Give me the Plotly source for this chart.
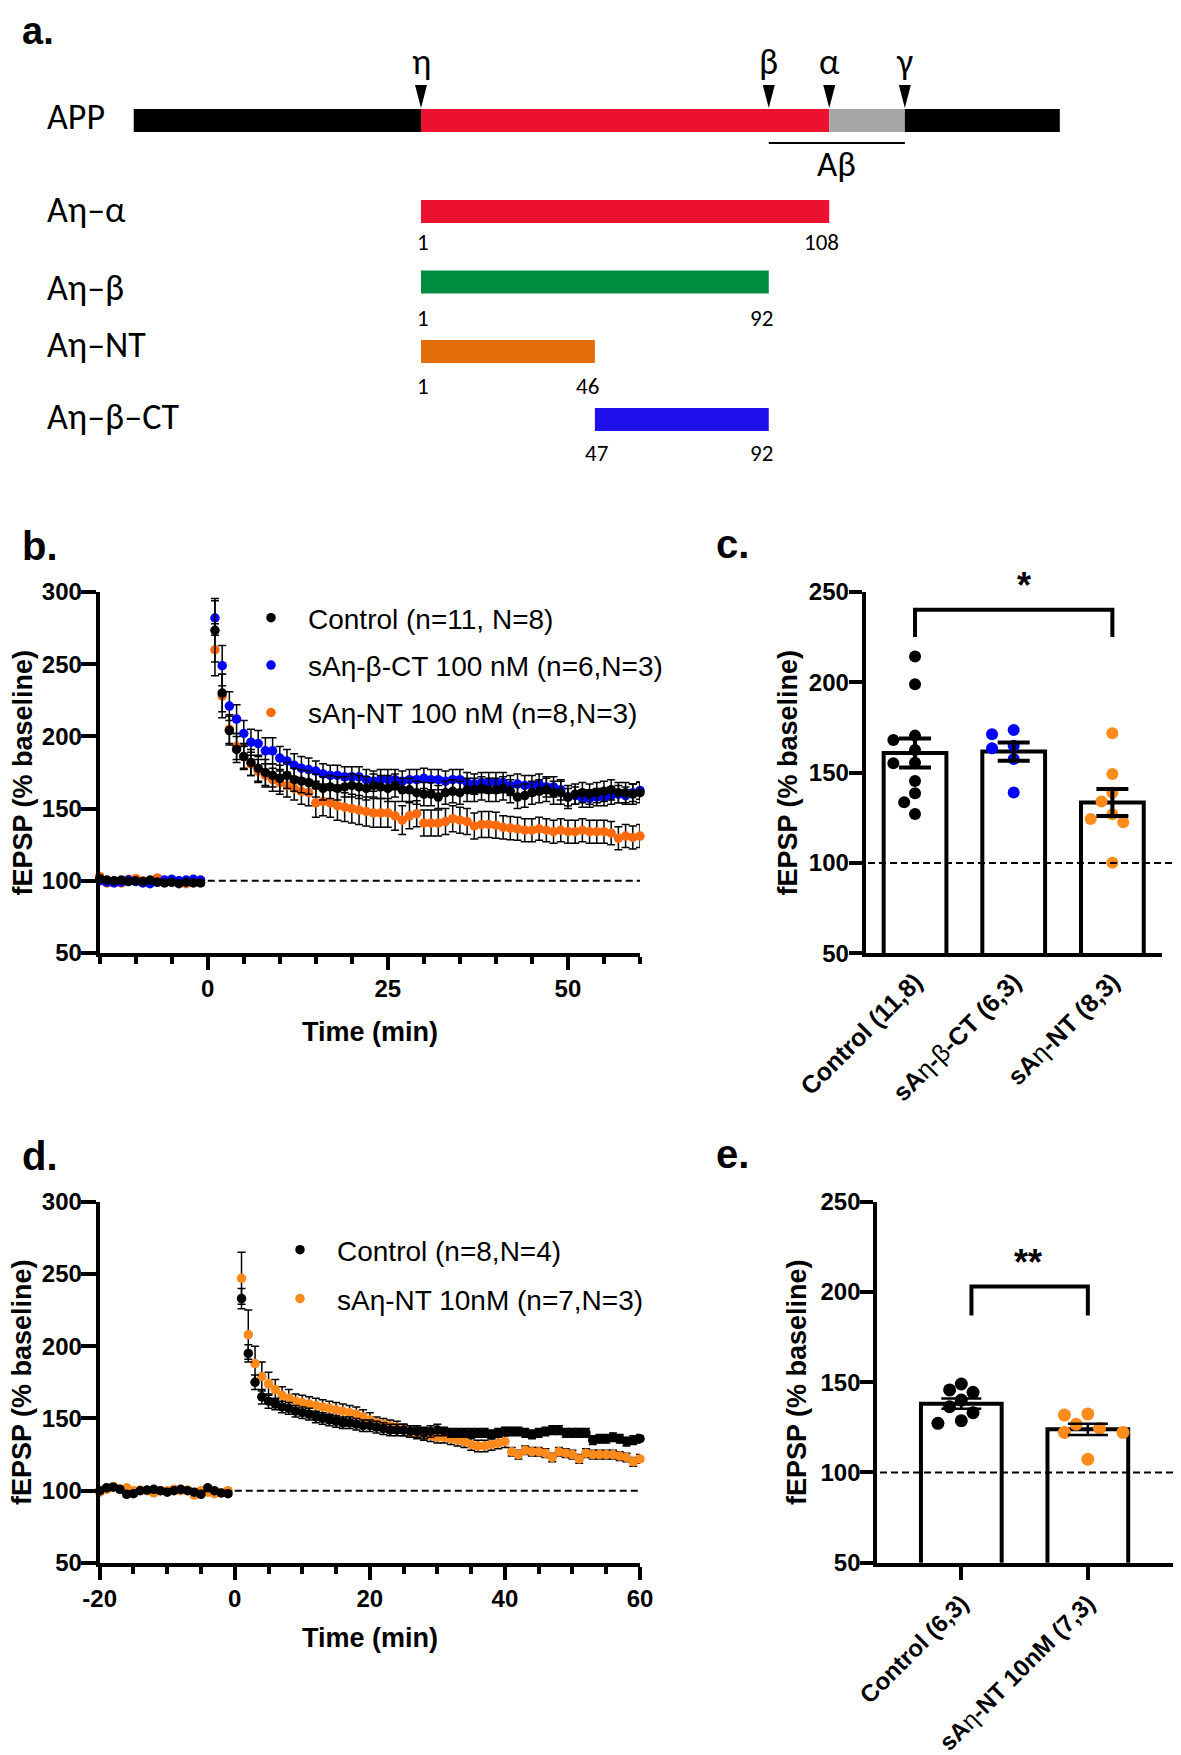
import plotly.graph_objects as go
import numpy as np

# page is 1181x1755; the html body has an 8px margin, so the figure is offset by 8px
PAGE_W, PAGE_H, OFF = 1181, 1755, 8
W, H = PAGE_W - OFF, PAGE_H - OFF
def fx(p): return (p - OFF) / W
def fy(p): return 1 - (p - OFF) / H

ARIAL = "Liberation Sans, Arial, Helvetica, sans-serif"
CALIBRI = "Carlito, Lato, Calibri, sans-serif"

# ---------------- Panel a data ----------------
app_seg_start = [-76, 0, 108, 128]
app_seg_end = [0, 108, 128, 169]
app_seg_color = ["#000000", "#ED1130", "#A6A6A6", "#000000"]
site_names = ["η", "β", "α", "γ"]
site_pos = [0, 92, 108, 128]
abeta_span = [92, 128]
frag_names = ["Aη–α", "Aη–β", "Aη–NT", "Aη–β–CT"]
frag_start = [1, 1, 1, 47]
frag_end = [108, 92, 46, 92]
frag_colors = ["#ED1130", "#008C41", "#E36C0A", "#1E0FEB"]

# ---------------- Panel b data ----------------
b_base_t = list(range(-15, 0))
post_t = list(range(1, 61))
b_names = ["Control (n=11, N=8)", "sAη-β-CT 100 nM (n=6,N=3)", "sAη-NT 100 nM (n=8,N=3)"]
b_ctrl_base = [101.5, 100.5, 100, 100.5, 99.5, 100, 99.5, 100.5, 99, 98.5, 99, 98, 99, 98.5, 98.5]
b_ct_base = [100, 99, 98.5, 99, 100.5, 99.5, 98.5, 98, 99, 100.5, 101, 100, 100.5, 101, 100.5]
b_nt_base = [103, 98.5, 100, 98.5, 101, 101.5, 100, 99, 102, 100, 99, 100, 98, 99.5, 99]
b_ctrl_post = [273.5, 230, 204, 191, 186, 182, 178, 175, 173, 171,
               173, 170, 169, 168, 166, 164, 165, 164, 165, 166,
               165, 164, 166, 165, 164, 166, 163, 163, 161, 160,
               160, 158, 161, 162, 161, 163, 163, 164, 163, 163,
               164, 162, 158, 159, 161, 162, 163, 161, 161, 158,
               160, 161, 160, 161, 162, 163, 161, 161, 160, 161]
b_ct_post = [282, 249, 221, 212, 202, 196, 195, 190, 190, 185,
             183, 180, 178, 177, 176, 174, 173, 173, 172, 172,
             172, 170, 169, 170, 170, 170, 169, 170, 170, 171,
             170, 170, 169, 170, 170, 168, 167, 168, 168, 168,
             168, 166, 167, 166, 166, 167, 165, 165, 163, 158,
             159, 157, 157, 158, 158, 159, 160, 159, 161, 162.5]
b_nt_post = [260, 228, 205, 193, 186, 181, 176, 173, 170, 168,
             166, 164, 162, 161, 154, 155, 154, 152, 151, 150,
             149, 148, 147, 147, 147, 145, 142, 145, 146.5, 140,
             140, 140, 141, 143, 142, 141, 138, 139, 139, 138.5,
             137, 136.5, 136, 135, 135, 136, 135, 134, 135, 134,
             134, 135, 134, 134, 134, 133, 129.5, 131, 130, 131]
b_base_sem = [1.5, 1.5, 1.5, 1.5, 1.5, 1.5, 1.5, 1.5, 1.5, 1.5, 1.5, 1.5, 1.5, 1.5, 1.5]
b_ctrl_sem = [22, 13, 10, 9, 9, 9, 9, 9, 8, 9,
              9, 8, 8, 8, 8, 8, 8, 8, 7, 8,
              8, 8, 8, 8, 9, 8, 8, 8, 8, 8,
              8, 8, 8, 8, 8, 8, 8, 8, 8, 8,
              8, 8, 8, 8, 8, 8, 8, 8, 8, 8,
              7, 7, 7, 7, 7, 7, 7, 7, 7, 7]
b_ct_sem = [12, 14, 10, 10, 9, 9, 9, 9, 9, 8,
            8, 8, 8, 8, 7, 7, 7, 7, 7, 7,
            7, 7, 7, 7, 7, 7, 7, 7, 7, 7,
            7, 7, 7, 7, 7, 7, 7, 7, 7, 7,
            7, 7, 7, 7, 7, 7, 7, 7, 7, 6,
            6, 6, 6, 6, 6, 6, 6, 6, 6, 6]
b_nt_sem = [18, 15, 10, 9, 8, 8, 8, 8, 8, 8,
            8, 8, 9, 9, 10, 10, 10, 10, 10, 10,
            10, 10, 10, 10, 10, 10, 10, 9, 9, 9,
            9, 9, 9, 9, 9, 9, 9, 9, 9, 9,
            8, 8, 8, 8, 8, 8, 8, 8, 8, 8,
            8, 8, 8, 8, 8, 8, 8, 8, 8, 8]

# ---------------- Panel c data ----------------
c_labels = ["<b>Control (11,8)</b>", "<b>sA</b>η<b>-</b>β<b>-CT (6,3)</b>", "<b>sA</b>η<b>-NT (8,3)</b>"]
c_ctrl = [214.1, 198.8, 170.4, 168.0, 162.4, 155.4, 155.1, 145.3, 138.5, 133.5, 127.0]
c_ct = [173.5, 171.1, 164.8, 163.4, 157.5, 139.0]
c_nt = [171.7, 149.2, 138.8, 133.9, 126.9, 124.3, 122.5, 100.1]

# ---------------- Panel d data ----------------
d_base_t = list(range(-20, 0))
d_names = ["Control (n=8,N=4)", "sAη-NT 10nM (n=7,N=3)"]
d_ctrl_base = [100, 102, 102.5, 101, 97.5, 98, 100, 100.5, 101, 100, 99, 100, 101, 100, 99, 97.5, 102, 100, 98.5, 98]
d_nt_base = [99, 101, 103, 101, 102, 100, 100.5, 100, 98.5, 100, 100, 101, 100, 100.5, 97, 100, 99, 98, 98.5, 100]
d_ctrl_post = [233, 195, 175, 165, 162, 160, 158, 157, 155, 154,
               153, 151, 150, 149, 148, 147, 147, 146, 145, 145,
               144, 143, 142, 142, 142, 141, 141, 140, 141, 142,
               141, 140, 140, 140, 140, 140, 140, 139, 140, 141,
               141, 141, 140, 139, 140, 141, 142, 142, 140, 140,
               140, 140, 135, 136, 136, 137, 136, 134, 135, 136]
d_nt_post = [247, 208, 188, 179, 174, 170, 166, 164, 162, 161,
             160, 159, 158, 157, 156, 155, 154, 153, 151, 149,
             147, 146, 145, 144, 142, 141, 140, 139, 138, 137,
             137, 136, 135, 134, 132, 131, 131, 132, 133, 134,
             127, 125, 128, 127, 127, 126, 123, 127, 126, 125,
             122, 126, 125, 125, 125, 125, 124, 123, 120, 122]
d_base_sem = [1.5] * 20
d_ctrl_sem = [7, 6, 5, 5, 5, 4, 4, 4, 4, 4,
              4, 4, 4, 4, 4, 4, 4, 4, 4, 4,
              4, 4, 4, 4, 4, 4, 4, 4, 4, 4,
              3, 3, 3, 3, 3, 3, 3, 3, 3, 3,
              3, 3, 3, 3, 3, 3, 3, 3, 3, 3,
              3, 3, 3, 3, 3, 3, 3, 3, 3, 3]
d_nt_sem = [18, 17, 12, 10, 8, 7, 6, 6, 5, 5,
            5, 5, 5, 5, 5, 5, 5, 5, 5, 5,
            4, 4, 4, 4, 4, 4, 4, 4, 4, 4,
            4, 4, 4, 4, 4, 4, 4, 4, 4, 4,
            3, 3, 3, 3, 3, 3, 3, 3, 3, 3,
            3, 3, 3, 3, 3, 3, 3, 3, 3, 3]
d_ticks = [-20, 0, 20, 40, 60]
d_ticklabels = ["-20", "0", "20", "40", "60"]

# ---------------- Panel e data ----------------
e_labels = ["<b>Control (6,3)</b>", "<b>sA</b>η<b>-NT 10nM (7,3)</b>"]
e_ctrl = [149.0, 145.7, 144.4, 140.1, 136.4, 133.1, 128.7, 127.2]
e_nt = [132.4, 131.8, 126.7, 124.5, 122.2, 122.2, 107.3]

BLACK = "#000000"
BLUE = "#0000FF"
ORANGE_B = "#FF6A0D"
ORANGE_D = "#FF8A1C"
ORANGE_C = "#FF8C1A"

fig = go.Figure()

# ================= Panel a (page-pixel rows) =================
APP_ROW = 120.5
frag_rows = [211.5, 282, 351.5, 419.5]
num_rows = [242, 318, 386, 453]
label_rows = [117, 210, 288, 345, 417]
A_PX0, A_SCALE = 421.0, 3.78

fig.add_trace(go.Bar(
    y=[APP_ROW] * len(app_seg_start),
    x=[e - s for s, e in zip(app_seg_start, app_seg_end)],
    base=app_seg_start, orientation="h", width=23,
    marker=dict(color=app_seg_color, line=dict(width=0)),
    xaxis="x", yaxis="y", showlegend=False, hoverinfo="skip"))
fig.add_trace(go.Bar(
    y=frag_rows,
    x=[e - (s - 1) for s, e in zip(frag_start, frag_end)],
    base=[s - 1 for s in frag_start], orientation="h", width=23,
    marker=dict(color=frag_colors, line=dict(width=0)),
    xaxis="x", yaxis="y", showlegend=False, hoverinfo="skip"))

shapes = []
annotations = []

def ann(text, x, y, size, xref="paper", yref="paper", xanchor="center", yanchor="middle",
        family=ARIAL, bold=False, angle=0):
    annotations.append(dict(
        text=text, x=x, y=y, xref=xref, yref=yref, xanchor=xanchor, yanchor=yanchor,
        showarrow=False, textangle=angle,
        font=dict(family=family, size=size, color="black", weight="bold" if bold else "normal")))

hw = 6 / A_SCALE
for name, p in zip(site_names, site_pos):
    shapes.append(dict(type="path", xref="x", yref="y",
                       path=f"M {p - hw},85 L {p + hw},85 L {p},108 Z",
                       fillcolor="black", line=dict(width=0)))
    ann(name, p, 62, 36, xref="x", yref="y", family=CALIBRI)
shapes.append(dict(type="line", xref="x", yref="y", x0=abeta_span[0], x1=abeta_span[1],
                   y0=143, y1=143, line=dict(color="black", width=2)))
ann("Aβ", sum(abeta_span) / 2, 164, 35, xref="x", yref="y", family=CALIBRI)

for lab, yr in zip(["APP"] + frag_names, label_rows):
    ann(lab, fx(45), yr, 36, xref="paper", yref="y", xanchor="left", family=CALIBRI)
for s, e, yr in zip(frag_start, frag_end, num_rows):
    ann(str(s), s - 0.5, yr, 23, xref="x", yref="y", family=CALIBRI)
    ann(str(e), e - 2, yr, 23, xref="x", yref="y", family=CALIBRI)

# ================= Panels b / d (time courses) =================
def add_series(t, y, sem, color, name, xa, ya, legend, rank):
    fig.add_trace(go.Scatter(
        x=t, y=y, mode="markers", name=name,
        marker=dict(color=color, size=9.5, line=dict(width=0)),
        error_y=dict(type="data", array=sem, visible=True, color="black", thickness=1.5, width=4),
        xaxis=xa, yaxis=ya, legend=legend, legendgroup=name, legendrank=rank,
        cliponaxis=False, hoverinfo="skip"))

add_series(b_base_t + post_t, b_nt_base + b_nt_post, b_base_sem + b_nt_sem, ORANGE_B, b_names[2], "x2", "y2", "legend", 3)
add_series(b_base_t + post_t, b_ct_base + b_ct_post, b_base_sem + b_ct_sem, BLUE, b_names[1], "x2", "y2", "legend", 2)
add_series(b_base_t + post_t, b_ctrl_base + b_ctrl_post, b_base_sem + b_ctrl_sem, BLACK, b_names[0], "x2", "y2", "legend", 1)

add_series(d_base_t + post_t, d_nt_base + d_nt_post, d_base_sem + d_nt_sem, ORANGE_D, d_names[1], "x4", "y4", "legend2", 2)
add_series(d_base_t + post_t, d_ctrl_base + d_ctrl_post, d_base_sem + d_ctrl_sem, BLACK, d_names[0], "x4", "y4", "legend2", 1)

for xa, ya in (("x2", "y2"), ("x4", "y4")):
    shapes.append(dict(type="line", xref=xa, yref=ya, x0=0, x1=60, y0=100, y1=100,
                       line=dict(color="black", width=2, dash="7px,4px")))

# ================= Panels c / e (bars + dots) =================
def swarm(vals, diam_px, px_per_y, px_per_x):
    placed, res = [], [0.0] * len(vals)
    order = sorted(range(len(vals)), key=lambda i: -vals[i])
    step = diam_px * 0.9
    cands = [0] + [s * k for k in range(1, 20) for s in (-1, 1)]
    for i in order:
        yp = vals[i] * px_per_y
        for k in cands:
            xp = k * step
            if all((xp - a) ** 2 + (yp - b) ** 2 >= (diam_px * 1.0) ** 2 for a, b in placed):
                break
        placed.append((xp, yp))
        res[i] = xp / px_per_x
    return res

def add_bar_panel(groups, colors, xa, ya, bar_w, dot_size, px_y, px_x, err_w, err_th):
    means = [float(np.mean(g)) for g in groups]
    sems = [float(np.std(g, ddof=1) / np.sqrt(len(g))) for g in groups]
    idx = list(range(len(groups)))
    fig.add_trace(go.Bar(x=idx, y=means, width=bar_w, xaxis=xa, yaxis=ya,
                         marker=dict(color="white", line=dict(color="black", width=4)),
                         showlegend=False, hoverinfo="skip"))
    for i, (g, c) in enumerate(zip(groups, colors)):
        offs = swarm(g, dot_size, px_y, px_x)
        fig.add_trace(go.Scatter(x=[i + o for o in offs], y=g, mode="markers",
                                 marker=dict(color=c, size=dot_size, line=dict(width=0)),
                                 xaxis=xa, yaxis=ya, showlegend=False, hoverinfo="skip",
                                 cliponaxis=False))
    fig.add_trace(go.Scatter(x=idx, y=means, mode="markers",
                             marker=dict(size=1, color="rgba(0,0,0,0)"),
                             error_y=dict(type="data", array=sems, visible=True, color="black",
                                          thickness=err_th, width=err_w),
                             xaxis=xa, yaxis=ya, showlegend=False, hoverinfo="skip"))

add_bar_panel([c_ctrl, c_ct, c_nt], [BLACK, BLUE, ORANGE_C], "x3", "y3", 0.636, 12, 1.808, 98.3, 16, 4)
add_bar_panel([e_ctrl, e_nt], [BLACK, ORANGE_C], "x5", "y5", 0.638, 13, 1.805, 126.5, 20, 2.5)

shapes.append(dict(type="line", xref="paper", yref="y3", x0=fx(868), x1=1, y0=100, y1=100,
                   line=dict(color="black", width=2, dash="7px,4px")))
shapes.append(dict(type="line", xref="paper", yref="y5", x0=fx(880), x1=1, y0=100, y1=100,
                   line=dict(color="black", width=2, dash="7px,4px")))
shapes.append(dict(type="path", xref="x3", yref="y3", path="M 0,225 L 0,240 L 2,240 L 2,225",
                   line=dict(color="black", width=4)))
shapes.append(dict(type="path", xref="x5", yref="y5", path="M 0.08,187 L 0.08,203 L 1,203 L 1,187",
                   line=dict(color="black", width=4)))
ann("*", 1.1, 241, 36, xref="x3", yref="y3", yanchor="bottom", bold=True)
ann("**", 0.53, 204, 36, xref="x5", yref="y5", yanchor="bottom", bold=True)

# ================= Labels =================
ann("a.", fx(20), fy(OFF), 38, xanchor="left", yanchor="top", bold=True)
for lab, x, y in (("b.", 20, 546), ("c.", 714, 544), ("d.", 20, 1156), ("e.", 714, 1154)):
    ann(lab, fx(x), fy(y), 40, xanchor="left", bold=True)

ytitle = "fEPSP (% baseline)"
for x, y in ((22, 772.5), (787, 772.5), (22, 1382), (797, 1382)):
    ann(ytitle, fx(x), fy(y), 27, bold=True, angle=-90)
for y in (1032, 1638):
    ann("Time (min)", fx(370), fy(y), 27, bold=True)

# ================= Axes =================
tickfont = dict(family=ARIAL, size=24, color="black", weight="bold")
def axis(**kw):
    base = dict(showline=True, linewidth=4, linecolor="black", showgrid=False, zeroline=False,
                ticks="outside", tickwidth=4, tickcolor="black", tickfont=tickfont, automargin=False)
    base.update(kw)
    return base

minor = dict(dtick=5, ticklen=7, tickwidth=4, ticks="outside", tickcolor="black", showgrid=False)
layout = dict(
    width=W, height=H, margin=dict(l=0, r=0, t=0, b=0, pad=0, autoexpand=False), autosize=False,
    paper_bgcolor="white", plot_bgcolor="rgba(0,0,0,0)", barmode="overlay",
    xaxis=dict(domain=[0, 1], range=[(OFF - A_PX0) / A_SCALE, (PAGE_W - A_PX0) / A_SCALE],
               visible=False, anchor="y"),
    yaxis=dict(domain=[fy(480), 1], range=[480, OFF], visible=False, anchor="x"),
    xaxis2=axis(domain=[fx(99.7), fx(640)], anchor="y2", range=[-15, 60], tick0=0, dtick=25,
                ticklen=13, minor=minor, ticklabelstandoff=-2),
    yaxis2=axis(domain=[fy(953), fy(592)], anchor="x2", range=[50, 300], dtick=50, ticklen=15,
                ticklabelstandoff=-6),
    xaxis3=axis(domain=[fx(865.7), fx(1161.7)], anchor="y3", range=[-0.5, 2.5], tickvals=[0, 1, 2],
                ticktext=c_labels, ticks="", tickangle=-45,
                tickfont=dict(family=ARIAL, size=25, color="black")),
    yaxis3=axis(domain=[fy(953.3), fy(591.7)], anchor="x3", range=[50, 250], dtick=50, ticklen=13,
                ticklabelstandoff=-5),
    xaxis4=axis(domain=[fx(99.7), fx(640)], anchor="y4", range=[-20, 60], tickvals=d_ticks,
                ticktext=d_ticklabels, ticklen=13, minor=minor, ticklabelstandoff=-2),
    yaxis4=axis(domain=[fy(1563), fy(1201.7)], anchor="x4", range=[50, 300], dtick=50, ticklen=15,
                ticklabelstandoff=-6),
    xaxis5=axis(domain=[fx(877.3), fx(1173)], anchor="y5", range=[-0.664, 1.673], tickvals=[0, 1],
                ticktext=e_labels, ticklen=13, tickangle=-45,
                tickfont=dict(family=ARIAL, size=24, color="black")),
    yaxis5=axis(domain=[fy(1562.7), fy(1201.7)], anchor="x5", range=[50, 250], dtick=50, ticklen=13,
                ticklabelstandoff=-5),
    legend=dict(x=fx(234), y=fy(593), xanchor="left", yanchor="top", bgcolor="rgba(0,0,0,0)",
                font=dict(family=ARIAL, size=28, color="black"), tracegroupgap=8, itemwidth=64),
    legend2=dict(x=fx(263), y=fy(1225), xanchor="left", yanchor="top", bgcolor="rgba(0,0,0,0)",
                 font=dict(family=ARIAL, size=28, color="black"), tracegroupgap=9.5, itemwidth=64),
    shapes=shapes, annotations=annotations,
)
fig.update_layout(**layout)
fig.write_html("out.html")
